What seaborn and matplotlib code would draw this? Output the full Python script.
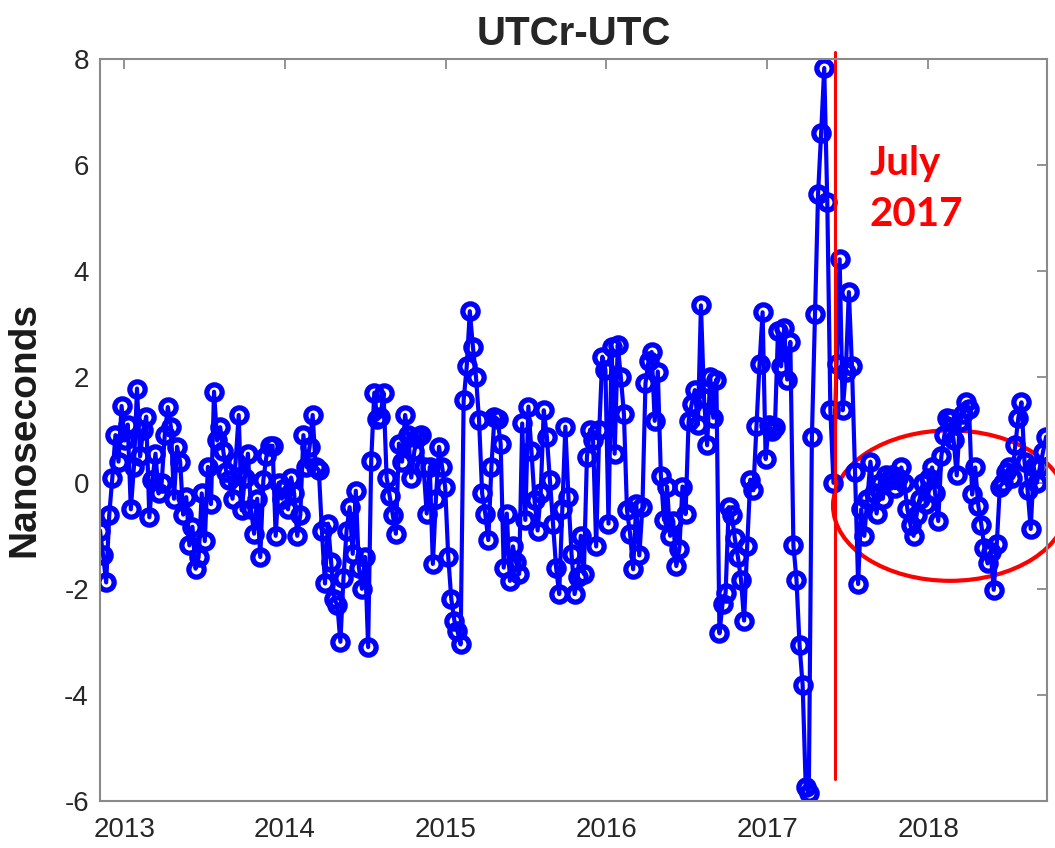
import numpy as np
import pandas as pd
import matplotlib
matplotlib.use('Agg')
import matplotlib.pyplot as plt
import matplotlib.dates as mdates
from matplotlib.patches import Ellipse
import seaborn as sns

sns.set_style('white')
plt.rcParams['font.family'] = ['Liberation Sans', 'DejaVu Sans']
plt.rcParams['axes.unicode_minus'] = False

# weekly UTCr-UTC values (ns)
START = '2012-11-07'
ns_late2012_2013 = [
    -0.9, -1.37, -1.88, -0.6, 0.1, 0.9, 0.4, 1.45,
    0.8, 1.1, -0.5, 0.3, 1.78, 0.5, 1.0, 1.25,
    -0.65, 0.05, 0.55, -0.2, 0.0, 0.9, 1.43, 1.05,
    -0.3, 0.68, 0.4, -0.6, -0.27, -1.18, -0.83, -1.62,
    -1.4, -0.2, -1.1, 0.3, -0.4, 1.72, 0.8, 1.05,
    0.6, 0.2, 0.05, -0.3, 0.4, 1.28, -0.52, 0.1,
    0.55, -0.5, -0.96, -0.3, -1.4, 0.05, 0.5, 0.7,
]
ns_2014 = [
    0.7, -1.0, 0.0, -0.3, -0.1, -0.5, 0.1, -0.2,
    -1.0, -0.6, 0.9, 0.3, 0.68, 1.28, 0.3, 0.24,
    -0.9, -1.9, -0.77, -1.5, -2.2, -2.3, -3.0, -1.8,
    -0.9, -0.46, -1.34, -0.15, -1.6, -2.0, -1.4, -3.1,
    0.42, 1.7, 1.2, 1.25, 1.7, 0.1, -0.25, -0.6,
    -0.96, 0.74, 0.4, 1.28, 0.9, 0.1, 0.6, 0.85,
    0.9, 0.3, -0.58, 0.3, -1.53, -0.3, 0.68, 0.3,
]
ns_2015 = [
    -0.08, -1.4, -2.2, -2.6, -2.8, -3.05, 1.56, 2.2,
    3.24, 2.57, 2.0, 1.18, -0.2, -0.58, -1.08, 0.3,
    1.25, 1.2, 0.74, -1.6, -0.58, -1.85, -1.2, -1.5,
    -1.72, 1.12, -0.7, 1.44, 0.6, -0.33, -0.9, -0.2,
    1.37, 0.87, 0.05, -0.77, -1.6, -2.1, -0.5, 1.06,
    -0.27, -1.34, -2.1, -1.78, -1.0, -1.72, 0.49, 1.0,
    0.8, -1.2, 1.0, 2.38, 2.13, -0.77, 2.57, 0.55,
]
ns_2016 = [
    2.6, 2.0, 1.3, -0.52, -0.96, -1.63, -0.4, -1.37,
    -0.46, 1.88, 2.3, 2.47, 1.17, 2.1, 0.13, -0.7,
    -0.07, -1.0, -0.72, -1.57, -1.24, -0.07, -0.59, 1.17,
    1.49, 1.75, 1.1, 3.35, 1.6, 0.71, 2.0, 1.23,
    1.95, -2.84, -2.28, -2.08, -0.46, -0.6, -1.05, -1.4,
    -1.83, -2.6, -1.2, 0.06, -0.14, 1.07, 2.24, 3.22,
    0.45, 1.1, 0.97, 1.05, 2.86, 2.2, 2.92, 1.95,
]
ns_2017 = [
    2.66, -1.18, -1.83, -3.07, -3.82, -5.74, -5.86, 0.87,
    3.18, 5.45, 6.6, 7.83, 5.3, 1.37, 0.0, 2.24,
    4.22, 1.37, 2.1, 3.6, 2.2, 0.2, -1.91, -0.5,
    -1.0, -0.3, 0.4, -0.2, -0.58, 0.0, -0.3, 0.15,
    0.05, 0.15, -0.1, 0.1, 0.29, 0.0, -0.5, -0.8,
    -1.0, -0.6, -0.3, 0.0, -0.4, 0.1, 0.29, -0.2,
]
ns_2018 = [
    -0.72, 0.5, 0.9, 1.23, 1.2, 0.8, 0.14, 1.15,
    1.3, 1.52, 1.4, -0.22, 0.29, -0.43, -0.8, -1.23,
    -1.52, -1.3, -2.02, -1.15, -0.07, 0.0, 0.2, 0.29,
    0.1, 0.72, 1.23, 1.52, 0.4, -0.14, -0.87, 0.29,
    0.0, 0.3, 0.58, 0.87,
]

values = ns_late2012_2013 + ns_2014 + ns_2015 + ns_2016 + ns_2017 + ns_2018
dates = pd.date_range(START, periods=len(values), freq='7D')
df = pd.DataFrame({'date': dates, 'ns': values})

# annotation
MARK_DATE = pd.Timestamp('2017-06-04')
CIRCLE_DATE = pd.Timestamp('2018-02-20')
BLUE = '#0000ff'
AXIS_GREY = '#8a8a8a'

fig = plt.figure(figsize=(10.55, 8.48), dpi=100)
ax = fig.add_axes([0.0948, 0.0558, 0.8976, 0.8746])

sns.lineplot(data=df, x='date', y='ns', ax=ax, color=BLUE, linewidth=3.0,
             marker='o', markersize=11, markerfacecolor='none',
             markeredgecolor=BLUE, markeredgewidth=3.8)

ax.set_xlim(dates[0], dates[-1] + pd.Timedelta(days=2))
ax.set_ylim(-6, 8)
ax.set_yticks(range(-6, 9, 2))
ax.xaxis.set_major_locator(mdates.YearLocator())
ax.xaxis.set_major_formatter(mdates.DateFormatter('%Y'))

ax.tick_params(direction='in', length=7, width=1.3, color=AXIS_GREY,
               top=True, right=True, labelsize=20, labelcolor='#262626')
ax.tick_params(axis='x', pad=12)
ax.tick_params(axis='y', pad=8)
for sp in ax.spines.values():
    sp.set_color(AXIS_GREY)
    sp.set_linewidth(1.5)

ax.set_xlabel('')
ax.set_ylabel('Nanoseconds', fontsize=28, fontweight='bold', labelpad=16,
              color='#1a1a1a')
ax.set_title('UTCr-UTC', fontsize=29, fontweight='bold', pad=10)

# red marker line, label and ellipse
ax.axvline(MARK_DATE, ymin=0.0286, ymax=1.009, color='red', lw=2.2,
           clip_on=False)
ax.text(0.813, 0.884, 'July\n2017', transform=ax.transAxes, color='red',
        fontsize=29, fontweight='bold', family=['Lato', 'DejaVu Sans'],
        ha='left', va='top', linespacing=1.45)
ell = Ellipse((mdates.date2num(CIRCLE_DATE), -0.43), width=532, height=2.84,
              fill=False, edgecolor='red', lw=3, clip_on=False)
ax.add_patch(ell)

fig.savefig('out.png', dpi=100)
